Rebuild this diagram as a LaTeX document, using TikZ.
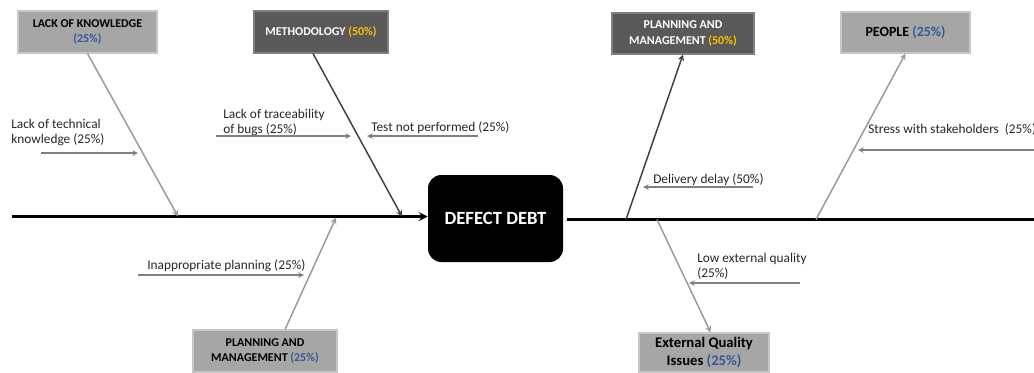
\documentclass[tikz,border=0pt]{standalone}
\usepackage{fontspec}
\setmainfont{Carlito}
\usepackage{tikz}
\usetikzlibrary{arrows,positioning}
\definecolor{pctblue}{RGB}{52,90,150}
\definecolor{pctorange}{RGB}{255,192,0}

\begin{document}
\begin{tikzpicture}
[x=0.75pt,y=-0.75pt,>=stealth,
lightbox/.style={rectangle,fill=black!35,draw=black!22,thick,inner sep=0pt,align=center,font=\bfseries\fontsize{9}{11.5}\selectfont},
darkbox/.style={rectangle,fill=black!65,draw=black!50,thick,inner sep=0pt,align=center,text=white,font=\bfseries\fontsize{9}{11.5}\selectfont},
cause/.style={anchor=north west,inner sep=0pt,align=left,text=black!85,font=\fontsize{10}{11.5}\selectfont},
spine/.style={line width=1.9pt,draw=black},
bone/.style={line width=1.1pt,draw=black!40},
darkbone/.style={line width=1.1pt,draw=black!75},
twig/.style={line width=0.9pt,draw=black!50,->}]
\useasboundingbox (0,0) rectangle (1034,372);

\node[rectangle,fill=black,rounded corners=10pt,minimum width=135*0.75pt,minimum height=87*0.75pt,text=white,font=\bfseries\fontsize{14}{16}\selectfont] (debt) at (495.5,218.5) {DEFECT DEBT};

\node[lightbox,minimum width=139*0.75pt,minimum height=42*0.75pt] (know) at (87.5,32) {LACK OF KNOWLEDGE\\\textcolor{pctblue}{(25\%)}};
\node[darkbox,minimum width=134*0.75pt,minimum height=42*0.75pt] (method) at (321,32) {METHODOLOGY \textcolor{pctorange}{(50\%)}};
\node[darkbox,minimum width=142*0.75pt,minimum height=41*0.75pt] (plantop) at (683,33.5) {PLANNING AND\\MANAGEMENT \textcolor{pctorange}{(50\%)}};
\node[lightbox,minimum width=129*0.75pt,minimum height=41*0.75pt,font=\bfseries\fontsize{10.5}{12}\selectfont] (people) at (905.5,32.5) {PEOPLE \textcolor{pctblue}{(25\%)}};
\node[lightbox,minimum width=144*0.75pt,minimum height=42*0.75pt] (planbot) at (265,351) {PLANNING AND\\MANAGEMENT \textcolor{pctblue}{(25\%)}};
\node[lightbox,minimum width=130*0.75pt,minimum height=39*0.75pt,font=\bfseries\fontsize{11}{14}\selectfont] (extq) at (704,352.5) {External Quality\\Issues \textcolor{pctblue}{(25\%)}};

\node[cause] (c1) at (11,119) {Lack of technical\\knowledge (25\%)};
\node[cause] (c2) at (223,109) {Lack of traceability\\of bugs (25\%)};
\node[cause] (c3) at (371,121) {Test not performed (25\%)};
\node[cause] (c4) at (147,259) {Inappropriate planning (25\%)};
\node[cause] (c5) at (653,173) {Delivery delay (50\%)};
\node[cause] (c6) at (868,123) {Stress with stakeholders\ \ (25\%)};
\node[cause] (c7) at (697,253) {Low external quality\\(25\%)};

\coordinate (tail) at (12,216.5);
\coordinate (head) at (1034,219.5);
\coordinate (j1) at (178,216.5);
\coordinate (j2) at (402,216.5);
\coordinate (j3) at (336,217.5);
\coordinate (j4) at (626,219.5);
\coordinate (j5) at (816,219.5);
\coordinate (j6) at (657,219.5);

\draw [spine,->] (tail) -- (tail -| debt.west);
\draw [spine] ([xshift=3pt]debt.east |- head) -- (head);

\draw [bone,->] (know.south) -- (j1);
\draw [darkbone,->] ([xshift=-6pt]method.south) -- (j2);
\draw [bone,->] ([xshift=15pt]planbot.north) -- (j3);
\draw [darkbone,->] (j4) -- (plantop.south);
\draw [bone,->] (j5) -- (people.south);
\draw [bone,->] (j6) -- ([xshift=5pt]extq.north);

\coordinate (s1) at (41,153);   \coordinate (e1) at (138,153);
\coordinate (s2) at (216,136);  \coordinate (e2) at (351,136);
\coordinate (s3) at (478,136);  \coordinate (e3) at (367,136);
\coordinate (s4) at (138,275);  \coordinate (e4) at (304,275);
\coordinate (s5) at (753,187);  \coordinate (e5) at (643,187);
\coordinate (s6) at (1034,150); \coordinate (e6) at (858,150);
\coordinate (s7) at (800,283);  \coordinate (e7) at (689,283);

\draw [twig] (s1) -- (e1);
\draw [twig] (s2) -- (e2);
\draw [twig] (s3) -- (e3);
\draw [twig] (s4) -- (e4);
\draw [twig] (s5) -- (e5);
\draw [twig] (s6) -- (e6);
\draw [twig] (s7) -- (e7);
\end{tikzpicture}
\end{document}
